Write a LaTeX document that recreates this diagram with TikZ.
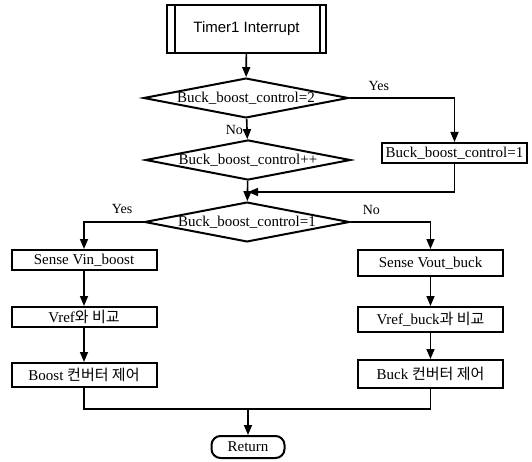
\documentclass[tikz,border=0pt]{standalone}
\usepackage{fontspec}
\setmainfont{Liberation Serif}
\setsansfont{Liberation Sans}
\newfontfamily\krfont{Noto Sans CJK KR}
\usetikzlibrary{shapes.geometric,arrows.meta}
\newcommand{\txt}{\fontsize{15}{17}\selectfont}

\tikzset{
  proc/.style={draw,line width=2pt,rectangle,minimum width=145pt,inner sep=0pt,font=\txt},
  decide/.style={draw,line width=2pt,diamond,aspect=5,inner sep=0pt,
    minimum width=205pt,minimum height=39pt,font=\txt},
  flow/.style={line width=1.6pt,-{Triangle[length=10pt,width=8pt]}},
  lbl/.style={font=\fontsize{14}{16}\selectfont},
}

\begin{document}
\begin{tikzpicture}[x=1pt,y=-1pt]
\useasboundingbox (0,0) rectangle (532,462);
% main column
\node[proc,minimum width=159pt,minimum height=48pt,font=\sffamily\txt] (start) at (246.5,29) {Timer1 Interrupt};
\draw[line width=2pt] ([xshift=9pt]start.north west)--([xshift=9pt]start.south west)
  ([xshift=-7pt]start.north east)--([xshift=-7pt]start.south east);
\node[decide] (chk2) at (246,98) {Buck\_boost\_control=2};
\node[decide] (inc) at (248,160) {Buck\_boost\_control++};
\node[decide] (chk1) at (247,222) {Buck\_boost\_control=1};
\node[proc,minimum height=20pt] (set1) at (454.5,153) {Buck\_boost\_control=1};
\coordinate (join) at (248,192);
% boost side
\node[proc,minimum height=20pt] (boost1) at (84,260) {Sense Vin\_boost};
\node[proc,minimum height=20pt] (boost2) at (84,317) {Vref{\krfont 와 비교}};
\node[proc,minimum height=24pt] (boost3) at (84,375) {Boost {\krfont 컨버터 제어}};
% buck side
\node[proc,minimum height=26pt] (buck1) at (430.5,263) {Sense Vout\_buck};
\node[proc,minimum height=25pt] (buck2) at (430.5,319.5) {Vref\_buck{\krfont 과 비교}};
\node[proc,minimum height=28pt] (buck3) at (430.5,374) {Buck {\krfont 컨버터 제어}};
\coordinate (merge) at (248,409);
\node[draw,line width=2pt,rounded corners=9pt,minimum width=73pt,minimum height=22pt,inner sep=0pt,font=\txt] (ret) at (248,447) {Return};

\draw[flow] (start)--(chk2);
\draw[flow] (chk2)--node[lbl,left,pos=0.55]{No}(inc);
\draw[flow] (chk2.east)-|node[lbl,above=3pt,pos=0.14]{Yes}(set1.north);
\draw[flow] (inc)--(chk1);
\draw[flow] (set1.south)|-(join);
\draw[flow] (chk1.west)-|node[lbl,above=4pt,pos=0.18]{Yes}(boost1.north);
\draw[flow] (chk1.east)-|node[lbl,above=3pt,pos=0.13]{No}(buck1.north);
\foreach \a/\b in {boost1/boost2,boost2/boost3,buck1/buck2,buck2/buck3}
  \draw[flow] (\a)--(\b);
\draw[line width=1.6pt] (boost3.south)|-(merge)-|(buck3.south);
\draw[flow] (merge)--(ret);
\end{tikzpicture}
\end{document}
